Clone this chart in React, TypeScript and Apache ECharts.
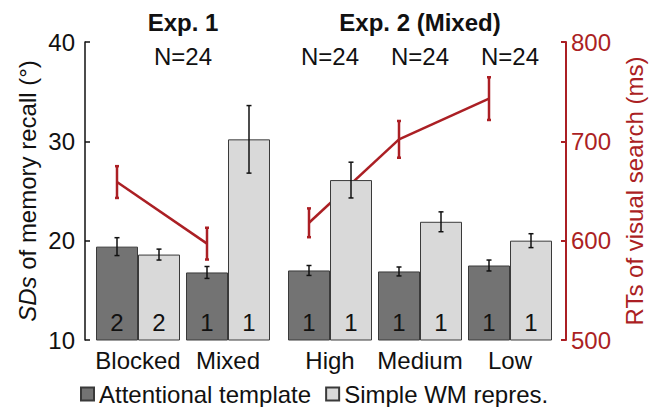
import React, { useEffect, useRef } from "react";
import * as echarts from "echarts";

const exp1Categories = ["Blocked", "Mixed"];
const exp2Categories = ["High", "Medium", "Low"];

const templateExp1 = [19.4, 16.8];
const templateErrExp1 = [0.9, 0.6];
const simpleExp1 = [18.6, 30.2];
const simpleErrExp1 = [0.55, 3.4];
const rtExp1 = [659, 597];
const rtErrExp1 = [16, 16];

const templateExp2 = [17.0, 16.9, 17.5];
const templateErrExp2 = [0.5, 0.45, 0.55];
const simpleExp2 = [26.1, 21.9, 20.0];
const simpleErrExp2 = [1.8, 1.0, 0.7];
const rtExp2 = [618, 702, 743];
const rtErrExp2 = [14.5, 18.5, 21.5];

const countTemplateExp1 = [2, 1];
const countSimpleExp1 = [2, 1];
const countTemplateExp2 = [1, 1, 1];
const countSimpleExp2 = [1, 1, 1];

const sdTicks = { min: 10, max: 40, interval: 10 };
const rtTicks = { min: 500, max: 800, interval: 100 };

const FONT = "'Liberation Sans', Arial, Helvetica, sans-serif";
const FS = 24;
const RED = "#ab1f24";
const DARK = "#737373";
const LIGHT = "#d9d9d9";
const BAR_W = 42;

function errSeries(gridIdx: number, vals: number[], errs: number[], side: number, color: string, width: number, cap: number, z: number, lineVals?: number[]) {
  const data = vals.map((v, i) => [i, v, errs[i]]);
  return {
    type: "custom",
    xAxisIndex: gridIdx,
    yAxisIndex: lineVals ? gridIdx * 2 + 1 : gridIdx * 2,
    z,
    silent: true,
    data,
    renderItem: (params: any, api: any) => {
      const i = api.value(0);
      const v = api.value(1);
      const e = api.value(2);
      const p = api.coord([i, v]);
      const t = api.coord([i, v + e]);
      const b = api.coord([i, v - e]);
      const cx = p[0] + side * BAR_W / 2;
      const style = { stroke: color, lineWidth: width, fill: "none" };
      const children: any[] = [
        { type: "line", shape: { x1: cx, y1: t[1], x2: cx, y2: b[1] }, style },
        { type: "line", shape: { x1: cx - cap, y1: t[1], x2: cx + cap, y2: t[1] }, style },
        { type: "line", shape: { x1: cx - cap, y1: b[1], x2: cx + cap, y2: b[1] }, style },
      ];
      if (lineVals && i + 1 < lineVals.length) {
        const n = api.coord([i + 1, lineVals[i + 1]]);
        children.push({
          type: "line",
          shape: { x1: cx, y1: p[1], x2: n[0] + side * BAR_W / 2, y2: n[1] },
          style: { stroke: color, lineWidth: width },
        });
      }
      return { type: "group", children };
    },
  };
}

function barSeries(gridIdx: number, name: string, vals: number[], counts: number[], color: string) {
  return {
    type: "bar",
    name,
    xAxisIndex: gridIdx,
    yAxisIndex: gridIdx * 2,
    data: vals,
    barWidth: BAR_W,
    barGap: "0%",
    z: 2,
    itemStyle: { color, borderColor: "#3a3a3a", borderWidth: 1 },
    label: {
      show: true,
      position: "insideBottom",
      distance: 6,
      fontSize: FS,
      fontFamily: FONT,
      color: "#111",
      formatter: (p: any) => String(counts[p.dataIndex]),
    },
  };
}

const catAxis = (gridIndex: number, data: string[]) => ({
  type: "category",
  gridIndex,
  data,
  axisLine: { show: false },
  axisTick: { show: false },
  axisLabel: { fontSize: FS, fontFamily: FONT, color: "#111", margin: 8, interval: 0, hideOverlap: false },
});

export default function App() {
  const ref = useRef<HTMLDivElement>(null);
  useEffect(() => {
    if (!ref.current) return;
    const chart = echarts.init(ref.current, null, { renderer: "svg" });
    const textStyle = (text: string, x: number, y: number, bold = false) => ({
      type: "text",
      x,
      y,
      style: {
        text,
        fill: "#111",
        font: `${bold ? "bold " : ""}${FS}px ${FONT}`,
        textAlign: "center",
        textVerticalAlign: "middle",
      },
    });
    chart.setOption({
      animation: false,
      backgroundColor: "#fff",
      textStyle: { fontFamily: FONT },
      grid: [
        { left: 93, width: 180, top: 42, height: 298 },
        { left: 285, width: 270, top: 42, height: 298 },
      ],
      xAxis: [catAxis(0, exp1Categories), catAxis(1, exp2Categories)],
      yAxis: [
        {
          type: "value",
          gridIndex: 0,
          position: "left",
          offset: 8,
          ...sdTicks,
          name: "{i|SDs} of memory recall (°)",
          nameLocation: "middle",
          nameRotate: 90,
          nameGap: 46,
          nameTextStyle: {
            fontSize: FS,
            fontFamily: FONT,
            color: "#111",
            rich: { i: { fontStyle: "italic", fontSize: FS, fontFamily: FONT, color: "#111" } },
          },
          axisLine: { show: true, lineStyle: { color: "#111", width: 1.5 } },
          axisTick: { show: true, inside: true, length: 5, lineStyle: { color: "#111", width: 1.5 } },
          axisLabel: { fontSize: FS, fontFamily: FONT, color: "#111", margin: 10 },
          splitLine: { show: false },
        },
        { type: "value", gridIndex: 0, ...rtTicks, show: false, splitLine: { show: false } },
        { type: "value", gridIndex: 1, ...sdTicks, show: false, splitLine: { show: false } },
        {
          type: "value",
          gridIndex: 1,
          position: "right",
          offset: 11,
          ...rtTicks,
          name: "RTs of visual search (ms)",
          nameLocation: "middle",
          nameRotate: 90,
          nameGap: 56,
          nameTextStyle: { fontSize: FS, fontFamily: FONT, color: RED },
          axisLine: { show: true, lineStyle: { color: RED, width: 2 } },
          axisTick: { show: true, inside: true, length: 5, lineStyle: { color: RED, width: 2 } },
          axisLabel: { fontSize: FS, fontFamily: FONT, color: RED, margin: 5 },
          splitLine: { show: false },
        },
      ],
      legend: {
        left: 80,
        top: 382,
        padding: 0,
        itemWidth: 13,
        itemHeight: 13,
        itemGap: 14,
        icon: "rect",
        textStyle: { fontSize: FS, fontFamily: FONT, color: "#111" },
        data: ["Attentional template", "Simple WM repres."],
      },
      graphic: [
        textStyle("Exp. 1", 183, 22, true),
        textStyle("Exp. 2 (Mixed)", 420, 22, true),
        textStyle("N=24", 183, 56),
        textStyle("N=24", 330, 56),
        textStyle("N=24", 420, 56),
        textStyle("N=24", 510, 56),
      ],
      series: [
        errSeries(0, rtExp1, rtErrExp1, -1, RED, 2.5, 2, 1, rtExp1),
        errSeries(1, rtExp2, rtErrExp2, -1, RED, 2.5, 2, 1, rtExp2),
        barSeries(0, "Attentional template", templateExp1, countTemplateExp1, DARK),
        barSeries(0, "Simple WM repres.", simpleExp1, countSimpleExp1, LIGHT),
        barSeries(1, "Attentional template", templateExp2, countTemplateExp2, DARK),
        barSeries(1, "Simple WM repres.", simpleExp2, countSimpleExp2, LIGHT),
        errSeries(0, templateExp1, templateErrExp1, -1, "#111", 1.5, 2.5, 5),
        errSeries(0, simpleExp1, simpleErrExp1, 1, "#111", 1.5, 2.5, 5),
        errSeries(1, templateExp2, templateErrExp2, -1, "#111", 1.5, 2.5, 5),
        errSeries(1, simpleExp2, simpleErrExp2, 1, "#111", 1.5, 2.5, 5),
      ],
    });
    return () => chart.dispose();
  }, []);
  return (
    <div
      ref={ref}
      style={{ position: "fixed", left: 0, top: 0, width: 657, height: 407, background: "#fff" }}
    />
  );
}
